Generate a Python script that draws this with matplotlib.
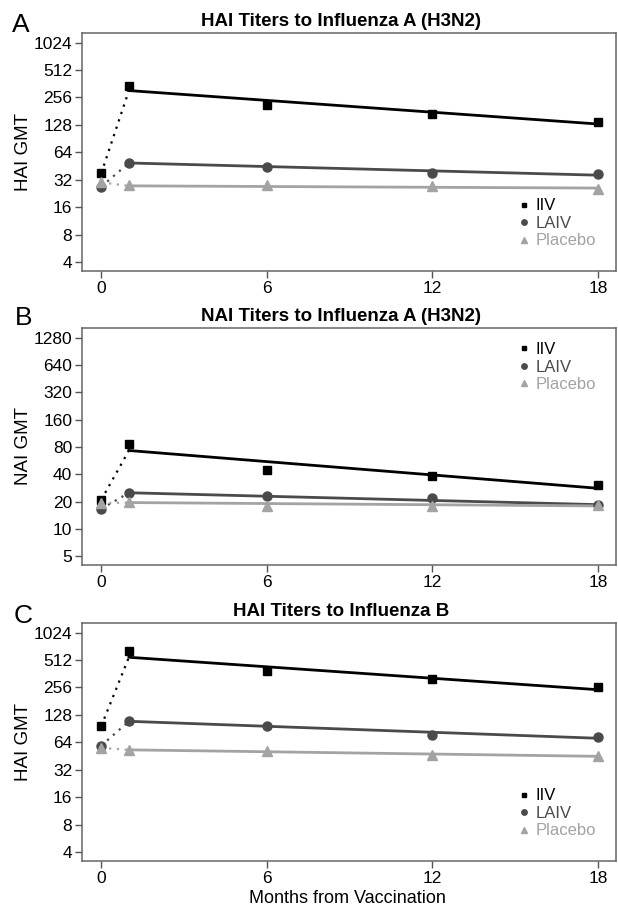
import matplotlib
matplotlib.use("Agg")
import matplotlib.pyplot as plt
import numpy as np

plt.rcParams["font.family"] = ["Liberation Sans", "DejaVu Sans"]

months = [0, 1, 6, 12, 18]
groups = ["IIV", "LAIV", "Placebo"]

# Panel A: HAI H3N2
a_iiv = [38, 345, 211, 168, 139]
a_laiv = [27, 49, 44, 38, 37]
a_placebo = [30, 28, 28, 27.5, 25.5]
a_fit_start = [305, 49, 27.5]
a_fit_end = [131, 36, 26]
a_ticks = [4, 8, 16, 32, 64, 128, 256, 512, 1024]

# Panel B: NAI H3N2
b_iiv = [21, 86, 44.5, 38.5, 30.5]
b_laiv = [16.6, 25, 23, 21.9, 18.4]
b_placebo = [19.2, 19.9, 17.7, 17.9, 18.4]
b_fit_start = [73, 25, 19.5]
b_fit_end = [28, 18.5, 17.9]
b_ticks = [5, 10, 20, 40, 80, 160, 320, 640, 1280]

# Panel C: HAI B
c_iiv = [97, 650, 393, 318, 258]
c_laiv = [59, 109, 96, 78, 73]
c_placebo = [55.7, 53, 52, 47, 45]
c_fit_start = [549, 109, 53]
c_fit_end = [242, 71, 45]
c_ticks = [4, 8, 16, 32, 64, 128, 256, 512, 1024]

colors = ["#000000", "#4a4a4a", "#a3a3a3"]
markers = ["s", "o", "^"]
msizes = [6, 6.5, 7]

fig = plt.figure(figsize=(6.18, 9.06), dpi=100)

panels = [
    ("A", "HAI Titers to Influenza A (H3N2)", "HAI GMT", [a_iiv, a_laiv, a_placebo],
     a_fit_start, a_fit_end, a_ticks, [0.1327, 0.7009, 0.864, 0.2627],
     (0.818, 0.305), (-0.131, 1.004)),
    ("B", "NAI Titers to Influenza A (H3N2)", "NAI GMT", [b_iiv, b_laiv, b_placebo],
     b_fit_start, b_fit_end, b_ticks, [0.1327, 0.3764, 0.864, 0.2616],
     (0.818, 0.94), (-0.125, 1.013)),
    ("C", "HAI Titers to Influenza B", "HAI GMT", [c_iiv, c_laiv, c_placebo],
     c_fit_start, c_fit_end, c_ticks, [0.1327, 0.0497, 0.864, 0.2627],
     (0.818, 0.305), (-0.129, 1.0)),
]

for letter, title, ylab, series, fs, fe, ticks, rect, leg_xy, let_xy in panels:
    ax = fig.add_axes(rect)
    ax.set_yscale("log", base=2)
    for i, vals in enumerate(series):
        # dotted link from baseline to first post-vaccination fit point
        ax.plot([months[0], months[1]], [vals[0], fs[i]], ls=(0, (1, 2.5)),
                color=colors[i], lw=1.6, zorder=2)
        # fitted decay line
        ax.plot([months[1], months[-1]], [fs[i], fe[i]], color=colors[i],
                lw=2.0, zorder=3)
        ax.plot(months, vals, ls="none", marker=markers[i], ms=msizes[i],
                color=colors[i], label=groups[i], zorder=4)
    ax.set_ylim(ticks[0] * 2 ** -0.32, ticks[-1] * 2 ** 0.35)
    ax.set_xlim(-0.7, 18.65)
    ax.set_yticks(ticks)
    ax.set_yticklabels([str(t) for t in ticks])
    ax.minorticks_off()
    ax.set_xticks([0, 6, 12, 18])
    ax.tick_params(direction="out", length=5, width=1, color="#555555",
                   labelsize=12.5, pad=2)
    for sp in ax.spines.values():
        sp.set_color("#666666")
        sp.set_linewidth(1.1)
    ax.set_ylabel(ylab, fontsize=13.5, labelpad=1)
    ax.set_title(title, fontsize=13.5, fontweight="bold", pad=5, x=0.485)
    ax.text(let_xy[0], let_xy[1], letter, transform=ax.transAxes, fontsize=19,
            ha="left", va="baseline")
    ax.legend(loc="upper left", bbox_to_anchor=leg_xy, frameon=False,
              fontsize=12, markerscale=0.6, handlelength=0.6,
              handletextpad=0.4, labelspacing=0.15, borderpad=0,
              borderaxespad=0, labelcolor="markerfacecolor")

fig.text(0.562, 0.003, "Months from Vaccination", ha="center", va="baseline",
         fontsize=13)

fig.savefig("out.png", dpi=100)
